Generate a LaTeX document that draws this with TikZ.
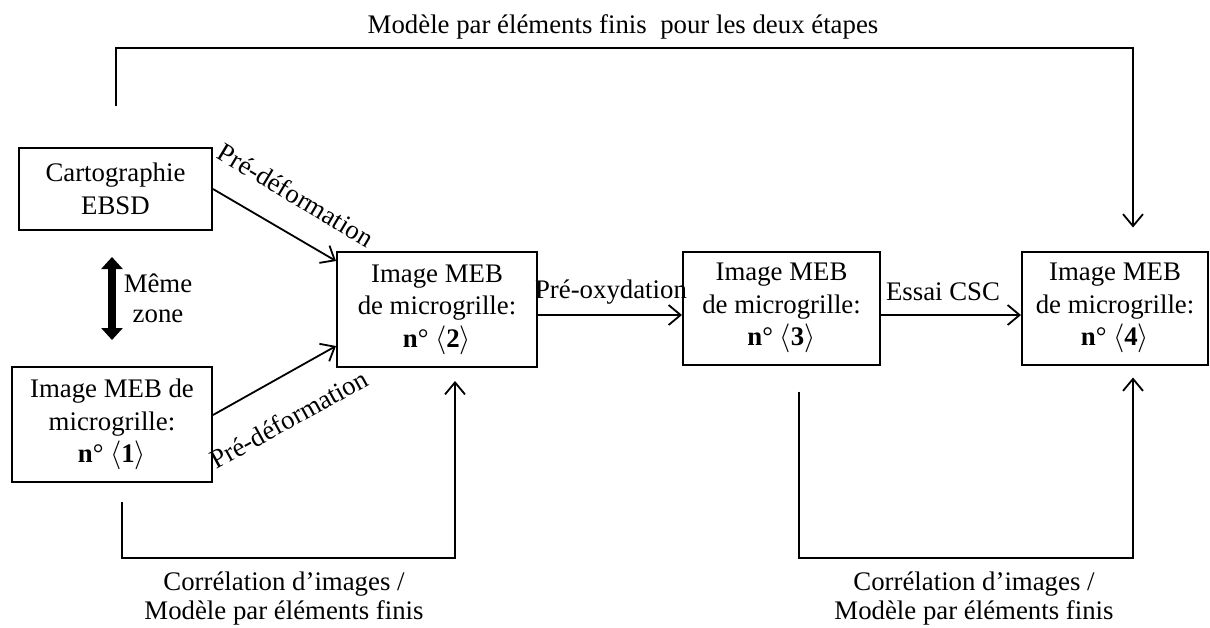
\documentclass[tikz,border=0pt]{standalone}
\usepackage{fontspec}
\setmainfont{Liberation Serif}
\usetikzlibrary{arrows.meta,calc}
\begin{document}
\begin{tikzpicture}[x=0.5pt,y=-0.5pt,
  every node/.style={font=\fontsize{13.4pt}{16.3pt}\selectfont},
  box/.style={draw,line width=1pt,align=center,inner sep=0pt},
  arr/.style={line width=0.9pt,-{Straight Barb[length=6pt,width=10pt]}},
  dbl/.style={line width=4pt,{Triangle[length=6pt,width=10.5pt]}-{Triangle[length=6pt,width=10.5pt]}},
  lbl/.style={font=\fontsize{13.4pt}{14.7pt}\selectfont,align=center,inner sep=0pt}]
\useasboundingbox (0,0) rectangle (1210,627);

% boxes
\node[box,minimum width=96.5pt,minimum height=41pt] (ebsd) at (115.5,189) {Cartographie\\EBSD};
\node[box,minimum width=100pt,minimum height=57.5pt] (img1) at (112,424.5) {Image MEB de\\microgrille:\\\textbf{n}° $\langle$\textbf{1}$\rangle$};
\node[box,minimum width=100pt,minimum height=57.5pt] (img2) at (437,309.5) {Image MEB\\de microgrille:\\\textbf{n}° $\langle$\textbf{2}$\rangle$};
\node[box,minimum width=98.5pt,minimum height=56.5pt] (img3) at (781.5,308) {Image MEB\\de microgrille:\\\textbf{n}° $\langle$\textbf{3}$\rangle$};
\node[box,minimum width=93pt,minimum height=56.5pt] (img4) at (1115,308) {Image MEB\\de microgrille:\\\textbf{n}° $\langle$\textbf{4}$\rangle$};

% same zone
\draw[dbl] ($(ebsd.south)+(-3.5,26)$) -- ($(img1.north)+(0,-26)$);
\node[lbl] (mz) at (158,298.5) {Même\\zone};

% main arrows
\draw[arr] (ebsd.east) -- ($(img2.north west)+(0,10)$);
\draw[arr] ($(img1.east)+(0,-9.5)$) -- ($(img2.south west)+(0,-22)$);
\draw[arr] ($(img2.east)+(0,5.5)$) -- ($(img3.west)+(0,7)$);
\draw[arr] ($(img3.east)+(0,7)$) -- ($(img4.west)+(0,7)$);

\node[lbl,rotate=-31] (pd1) at (296,195) {Pré-déformation};
\node[lbl,rotate=29] (pd2) at (289,419) {Pré-déformation};
\node[lbl,anchor=base] (po) at (611,298) {Pré-oxydation};
\node[lbl,anchor=base] (csc) at (943,300) {Essai CSC};

% top connector
\coordinate (t0) at ($(ebsd.north)+(0.5,-41)$);
\coordinate (t4) at ($(img4.north)+(18,-23)$);
\draw[arr] (t0) -- ++(0,-58) -| (t4);
\node[lbl,anchor=base] (top) at (623,33) {Modèle par éléments finis\ \ pour les deux étapes};

% bottom connectors
\coordinate (b1s) at ($(img1.south)+(10,19)$);
\coordinate (b1e) at ($(img2.south)+(18,13)$);
\draw[arr] (b1s) -- ++(0,56) -| (b1e);
\node[lbl] (c1) at (284,598.5) {Corrélation d’images /\\Modèle par éléments finis};

\coordinate (b2s) at ($(img3.south)+(17.5,26)$);
\coordinate (b2e) at ($(img4.south)+(18,12)$);
\draw[arr] (b2s) -- ++(0,166.5) -| (b2e);
\node[lbl] (c2) at (974,598.5) {Corrélation d’images /\\Modèle par éléments finis};
\end{tikzpicture}
\end{document}
